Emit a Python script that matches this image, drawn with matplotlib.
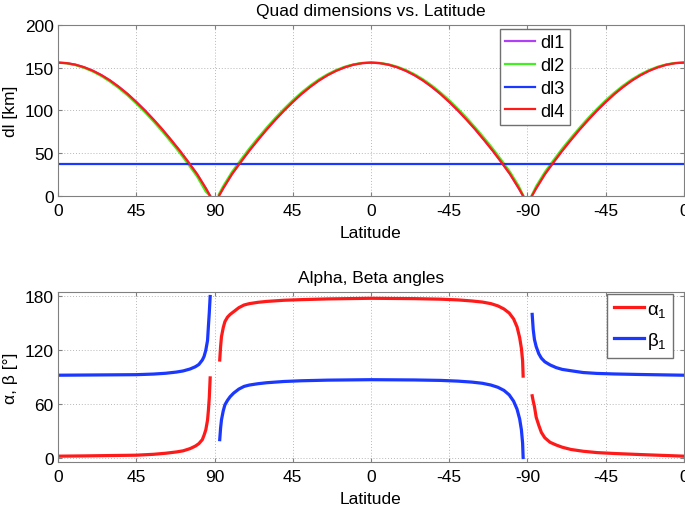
import matplotlib
matplotlib.use("Agg")
import matplotlib.pyplot as plt
import numpy as np

plt.rcParams['font.family'] = ['Liberation Sans', 'DejaVu Sans']
plt.rcParams['mathtext.fontset'] = 'custom'
plt.rcParams['mathtext.rm'] = 'Liberation Sans'
plt.rcParams['mathtext.it'] = 'Liberation Sans'

## x axis runs round the globe 0 -> 360, labelled as latitude
tick_pos = [0, 45, 90, 135, 180, 225, 270, 315, 360]
tick_lab = ['0', '45', '90', '45', '0', '-45', '-90', '-45', '0']

## quad edge lengths [km] (nan = break at the poles)
nan = np.nan
x_dl = [0, 5, 10, 15, 20, 25, 30, 35, 40, 45, 50, 55, 60, 65, 70, 75, 80, 85, 87.5,
        90,
        92.5, 95, 100, 105, 110, 115, 120, 125, 130, 135, 140, 145, 150, 155, 160, 165, 170, 175,
        180, 185, 190, 195, 200, 205, 210, 215, 220, 225, 230, 235, 240, 245, 250, 255, 260, 265, 267.5,
        270,
        272.5, 275, 280, 285, 290, 295, 300, 305, 310, 315, 320, 325, 330, 335, 340, 345, 350, 355, 360]
dl4 = [156, 155.4, 153.6, 150.6, 146.5, 141.3, 135, 127.6, 119.3, 110, 100, 89.2, 77.8, 65.6, 53, 39.5, 25.5, 9, 0,
       nan,
       0, 9, 25.5, 39.5, 53, 65.6, 77.8, 89.2, 100, 110, 119.3, 127.6, 135, 141.3, 146.5, 150.6, 153.6, 155.4,
       156, 155.4, 153.6, 150.6, 146.5, 141.3, 135, 127.6, 119.3, 110, 100, 89.2, 77.8, 65.6, 53, 39.5, 25.5, 9, 0,
       nan,
       0, 9, 25.5, 39.5, 53, 65.6, 77.8, 89.2, 100, 110, 119.3, 127.6, 135, 141.3, 146.5, 150.6, 153.6, 155.4, 156]
dl2 = [155.9, 155.2, 153.1, 149.9, 145.6, 140.2, 133.6, 126.1, 117.6, 108.1, 97.9, 87, 75.5, 63.2, 50.5, 36.9, 22.8, 5, 0,
       nan,
       2, 11.5, 28, 42, 55.5, 68, 80, 91.4, 102, 112, 121, 129.2, 136.4, 142.4, 147.4, 151.3, 154, 155.6,
       156, 155.6, 154, 151.3, 147.4, 142.4, 136.4, 129.2, 121, 112, 102, 91.4, 80, 68, 55.5, 42, 28, 11.5, 1,
       nan,
       1, 11.5, 28, 42, 55.5, 68, 80, 91.4, 102, 112, 121, 129.2, 136.4, 142.4, 147.4, 151.3, 154, 155.6, 156]
dl1 = list(dl4)
x_dl3 = [0, 90, 180, 270, 360]
dl3 = [38, 38, 38, 38, 38]

## alpha / beta angles [deg]
x_ab = [0, 15, 30, 45, 55, 62, 68, 72, 76, 79, 81, 83, 84, 85, 86, 86.5, 87, 87.5,
        90,
        93, 93.5, 94, 95, 96, 97.5, 99, 101, 104, 107, 110, 115, 120, 130, 140, 155, 180,
        205, 220, 230, 238, 244, 249, 253, 256.5, 259.5, 262, 264, 265.5, 266.5, 267.2, 267.5,
        270,
        272.7, 273.3, 274, 275, 276.5, 278, 280, 283, 286.5, 290, 295, 302, 310, 320, 335, 360]
alpha = [1.5, 1.8, 2.2, 2.6, 3.6, 4.8, 6.2, 7.5, 10, 12.8, 15.5, 20, 25, 31, 42, 53, 67, 89,
         nan,
         109, 124, 135, 145, 152, 157, 160, 163, 167.5, 170.5, 172, 173.5, 174.5, 175.8, 176.5, 177.3, 178,
         177.6, 177, 176.2, 175, 173.8, 172, 169.5, 166, 161.5, 155, 146, 134, 122, 108, 91,
         nan,
         69, 63, 57, 45, 36, 28, 22, 17, 14, 11.5, 9, 7, 5.5, 4.5, 3.3, 1.5]
beta = [92, 92.2, 92.4, 92.6, 93.3, 94.2, 95.5, 96.8, 99, 101.5, 104, 109, 113, 120, 131, 147, 162, 180,
        nan,
        20, 33, 42, 52, 59, 64, 68, 72, 76.5, 79.5, 81, 82.5, 83.6, 85, 85.8, 86.5, 87,
        86.7, 86.2, 85.4, 84.3, 83, 81, 78.5, 75, 70, 63, 54, 43, 31, 16, 0,
        nan,
        160, 143, 132, 124, 116, 111, 107, 103.5, 100.5, 98.5, 97, 95, 94, 93.4, 92.8, 92]

fig = plt.figure(figsize=(6.85, 5.06), dpi=100)
ax1 = fig.add_axes([0.0847, 0.6107, 0.9138, 0.3379])
ax2 = fig.add_axes([0.0847, 0.0850, 0.9138, 0.3359])

ax1.plot(x_dl, dl1, color='#b040f8', lw=1.6, label='dl1')
ax1.plot(x_dl, dl2, color='#40f020', lw=1.6, label='dl2')
ax1.plot(x_dl3, dl3, color='#1a38ff', lw=1.6, label='dl3')
ax1.plot(x_dl, dl4, color='#ff1a1a', lw=1.6, label='dl4')
ax1.set_ylim(0, 200)
ax1.set_yticks([0, 50, 100, 150, 200])
ax1.set_ylabel('dl [km]', labelpad=5, fontsize=12.5)
ax1.set_title('Quad dimensions vs. Latitude', fontsize=12.5, pad=7)
ax1.legend(loc='upper left', bbox_to_anchor=(500 / 685, 1 - 30 / 506), bbox_transform=fig.transFigure,
           fancybox=False, framealpha=1, edgecolor='#707070', fontsize=13,
           handlelength=1.65, borderpad=0.3, labelspacing=0.32, handletextpad=0.3,
           borderaxespad=0)

ax2.plot(x_ab, alpha, color='#ff1a1a', lw=2.3, label=r'$\alpha_1$')
ax2.plot(x_ab, beta, color='#1a38ff', lw=2.3, label=r'$\beta_1$')
ax2.set_ylim(-5, 185)
ax2.set_yticks([0, 60, 120, 180])
ax2.set_ylabel('α, β [°]', labelpad=5, fontsize=12.5)
ax2.set_title('Alpha, Beta angles', fontsize=12.5, pad=7)
ax2.legend(loc='upper left', bbox_to_anchor=(607 / 685, 1 - 295 / 506), bbox_transform=fig.transFigure,
           fancybox=False, framealpha=1, edgecolor='#707070', fontsize=13.5,
           handlelength=1.6, borderpad=0.35, labelspacing=0.6, handletextpad=0.2,
           borderaxespad=0)

for ax in (ax1, ax2):
    ax.set_xlim(0, 360)
    ax.set_xticks(tick_pos)
    ax.set_xticklabels(tick_lab)
    ax.set_xlabel('Latitude', labelpad=5, fontsize=12.5)
    ax.grid(True, ls=(0, (1, 2)), color='#b8b8b8', lw=0.7)
    ax.tick_params(direction='in', top=True, right=True, length=3, color='#808080',
                   labelsize=12.5)
    ax.tick_params(axis='x', pad=5)
    ax.tick_params(axis='y', pad=3)
    for s in ax.spines.values():
        s.set_color('#808080')

plt.savefig('out.png', dpi=100)
